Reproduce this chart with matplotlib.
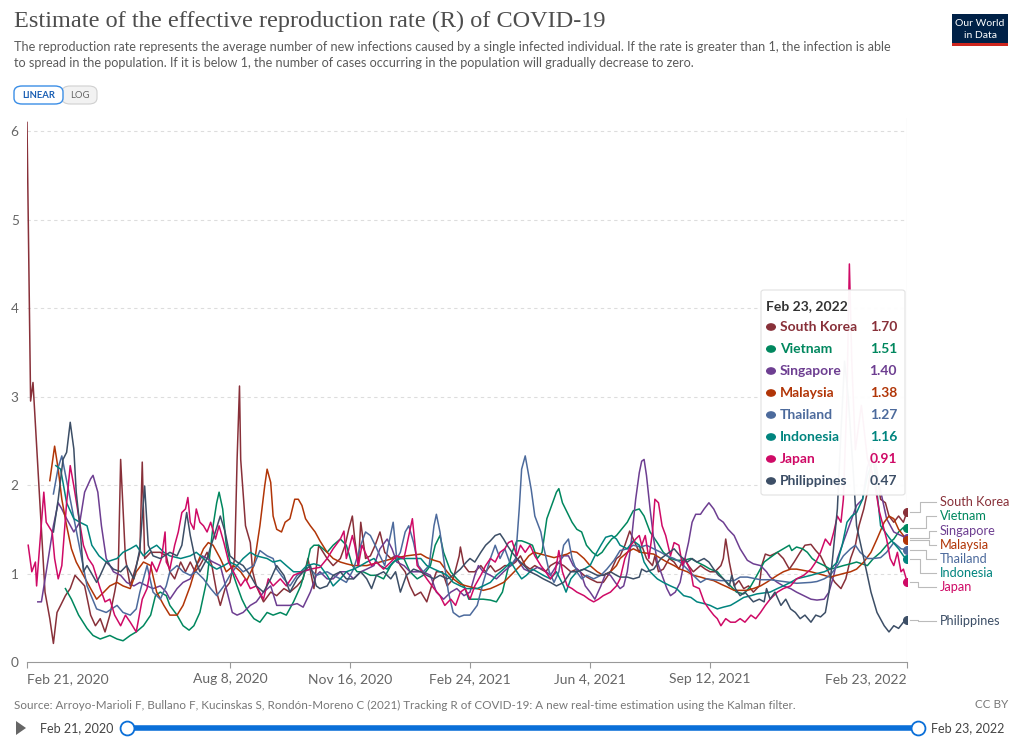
import matplotlib.pyplot as plt
from matplotlib.patches import FancyBboxPatch, Rectangle, Polygon, Circle
from matplotlib.lines import Line2D

plt.rcParams['font.family'] = ['Lato', 'DejaVu Sans']

# days since Feb 21, 2020 and estimated R
korea_days = [0, 3, 5, 11, 15, 19, 22, 25, 28, 32, 36, 40, 48, 53, 57, 61, 65, 69, 73, 76, 78, 82, 86, 91, 94, 96, 98, 103, 111, 116, 119, 123, 128, 132, 136, 140, 144, 150, 154, 158, 161, 165, 169, 173, 175, 177, 178, 182, 186, 188, 191, 197, 203, 208, 214, 219, 225, 230, 234, 239, 243, 250, 255, 261, 265, 268, 271, 273, 276, 278, 282, 286, 290, 294, 298, 303, 307, 311, 315, 319, 323, 328, 333, 337, 341, 346, 350, 355, 360, 361, 364, 368, 373, 378, 382, 386, 390, 394, 398, 403, 407, 411, 415, 419, 423, 428, 432, 436, 441, 447, 453, 458, 464, 469, 475, 480, 486, 491, 494, 498, 502, 505, 510, 512, 516, 521, 523, 526, 530, 535, 539, 543, 547, 551, 555, 561, 565, 569, 573, 578, 580, 582, 585, 589, 593, 597, 601, 605, 610, 612, 615, 619, 625, 630, 635, 639, 644, 648, 653, 657, 661, 665, 669, 673, 678, 682, 686, 690, 693, 697, 700, 704, 708, 711, 715, 718, 722, 726, 730, 733]
korea_r = [6.10, 2.95, 3.16, 1.73, 0.79, 0.49, 0.21, 0.56, 0.64, 0.75, 0.83, 0.98, 0.86, 0.53, 0.41, 0.49, 0.34, 0.53, 0.79, 1.02, 2.29, 1.17, 0.86, 1.09, 1.24, 2.26, 1.17, 1.24, 1.24, 1.20, 1.02, 0.94, 1.13, 1.02, 1.13, 1.02, 1.09, 1.24, 1.09, 0.79, 0.64, 0.83, 0.90, 1.17, 2.29, 3.12, 2.29, 1.54, 1.35, 1.02, 0.86, 0.68, 0.79, 0.75, 0.83, 0.79, 0.86, 0.94, 1.17, 0.83, 1.32, 1.17, 1.09, 1.17, 1.32, 1.50, 1.65, 1.39, 1.09, 1.58, 1.17, 1.20, 1.32, 1.47, 1.24, 1.17, 1.20, 1.09, 1.02, 0.86, 0.75, 0.79, 0.68, 0.86, 1.02, 1.02, 0.86, 0.94, 1.20, 1.30, 1.09, 1.02, 1.02, 1.09, 1.02, 1.09, 1.02, 1.05, 1.09, 1.09, 1.13, 1.20, 1.09, 1.05, 1.09, 1.05, 1.02, 1.09, 1.13, 1.09, 1.02, 1.05, 0.98, 0.94, 0.90, 0.90, 1.02, 1.17, 1.20, 1.32, 1.48, 1.39, 1.24, 1.32, 1.17, 1.09, 1.20, 1.02, 1.05, 1.17, 1.13, 1.05, 1.17, 1.09, 1.02, 1.09, 1.05, 1.02, 1.02, 1.09, 1.17, 1.39, 1.13, 0.86, 0.92, 0.83, 0.86, 0.79, 0.86, 1.09, 1.22, 1.20, 1.24, 1.17, 1.05, 1.13, 1.24, 1.32, 1.33, 1.26, 1.20, 1.09, 0.98, 0.90, 0.83, 0.94, 1.17, 1.32, 1.54, 1.73, 1.92, 2.30, 2.10, 1.84, 1.80, 1.65, 1.58, 1.65, 1.58, 1.70]

vietnam_days = [32, 37, 43, 50, 55, 61, 69, 75, 80, 86, 91, 97, 103, 107, 111, 116, 119, 125, 130, 135, 139, 144, 150, 155, 158, 160, 163, 166, 171, 175, 179, 183, 189, 194, 200, 205, 211, 216, 222, 228, 233, 236, 239, 243, 250, 255, 261, 266, 271, 275, 280, 286, 291, 297, 303, 308, 314, 319, 325, 330, 336, 340, 344, 347, 353, 358, 364, 368, 375, 380, 386, 391, 396, 400, 404, 408, 412, 416, 421, 425, 429, 433, 437, 441, 443, 446, 450, 454, 458, 462, 466, 471, 475, 479, 483, 487, 491, 500, 505, 510, 514, 519, 525, 530, 536, 541, 547, 553, 558, 564, 569, 575, 580, 586, 591, 597, 603, 608, 614, 619, 625, 630, 635, 637, 641, 646, 650, 654, 658, 664, 669, 675, 680, 686, 691, 700, 705, 711, 716, 722, 726, 730, 733]
vietnam_r = [0.83, 0.71, 0.53, 0.38, 0.30, 0.26, 0.30, 0.26, 0.24, 0.30, 0.34, 0.41, 0.53, 0.75, 0.79, 0.75, 0.64, 0.53, 0.41, 0.36, 0.41, 0.56, 0.94, 1.54, 1.80, 1.92, 1.73, 1.32, 1.02, 0.86, 0.71, 0.60, 0.49, 0.45, 0.56, 0.53, 0.56, 0.53, 0.68, 0.86, 1.09, 1.28, 1.32, 1.32, 1.24, 1.32, 1.39, 1.32, 1.09, 1.02, 1.02, 0.98, 0.98, 0.94, 1.09, 1.17, 1.17, 1.02, 0.94, 0.98, 1.09, 1.32, 1.43, 1.24, 1.02, 0.94, 0.86, 0.71, 0.71, 0.71, 0.70, 0.68, 0.79, 1.02, 1.24, 1.37, 1.37, 1.35, 1.32, 1.17, 1.24, 1.62, 1.77, 1.92, 1.96, 1.80, 1.69, 1.58, 1.50, 1.47, 1.32, 1.24, 1.20, 1.24, 1.32, 1.39, 1.43, 1.58, 1.71, 1.73, 1.65, 1.47, 1.35, 1.24, 1.17, 1.15, 1.15, 1.17, 1.13, 1.09, 1.05, 1.02, 0.94, 0.86, 0.79, 0.77, 0.86, 0.98, 1.13, 1.18, 1.24, 1.28, 1.32, 1.26, 1.30, 1.28, 1.24, 1.17, 1.13, 1.09, 1.05, 1.07, 1.09, 1.11, 1.13, 1.09, 1.17, 1.24, 1.32, 1.39, 1.47, 1.52, 1.51]

singapore_days = [9, 12, 16, 22, 26, 29, 33, 39, 44, 48, 53, 55, 59, 62, 66, 72, 78, 83, 89, 94, 100, 105, 111, 116, 119, 125, 130, 136, 141, 146, 150, 155, 161, 166, 171, 175, 180, 186, 191, 197, 203, 208, 214, 219, 225, 230, 236, 241, 244, 250, 255, 261, 266, 272, 278, 283, 289, 294, 300, 304, 308, 314, 319, 325, 330, 336, 341, 347, 353, 358, 364, 369, 373, 376, 380, 386, 391, 397, 403, 408, 414, 419, 425, 430, 436, 441, 447, 451, 455, 461, 465, 469, 473, 478, 482, 486, 490, 494, 497, 500, 503, 507, 510, 512, 514, 516, 519, 522, 525, 529, 533, 536, 540, 544, 548, 551, 554, 557, 561, 564, 568, 572, 576, 580, 584, 589, 594, 600, 605, 611, 616, 619, 625, 630, 636, 641, 647, 653, 658, 664, 668, 672, 675, 679, 683, 687, 691, 696, 700, 705, 710, 716, 722, 728, 733]
singapore_r = [0.68, 0.68, 1.02, 1.54, 1.80, 1.73, 1.62, 1.47, 1.58, 1.92, 2.07, 2.11, 1.92, 1.54, 1.17, 1.02, 0.98, 0.90, 0.86, 0.90, 0.86, 0.83, 0.86, 0.79, 0.71, 0.83, 0.90, 0.94, 1.09, 1.20, 1.17, 1.13, 1.09, 0.83, 0.56, 0.53, 0.56, 0.64, 0.68, 0.79, 0.86, 0.64, 0.64, 0.64, 0.66, 0.62, 0.79, 0.98, 1.02, 0.94, 0.94, 1.02, 1.02, 0.94, 1.02, 1.05, 1.09, 1.28, 1.39, 1.28, 1.13, 1.09, 1.02, 1.02, 1.02, 0.98, 0.79, 0.71, 0.79, 0.83, 0.75, 0.79, 0.98, 1.09, 1.02, 0.98, 0.94, 1.02, 1.09, 1.17, 1.05, 1.02, 1.07, 1.05, 0.98, 1.09, 1.20, 1.20, 1.09, 1.02, 0.86, 0.79, 0.71, 0.86, 1.00, 0.98, 0.90, 0.83, 0.86, 1.02, 1.32, 1.84, 2.14, 2.27, 2.29, 2.11, 1.73, 1.39, 1.13, 0.98, 0.83, 0.75, 0.79, 0.90, 1.17, 1.35, 1.58, 1.67, 1.67, 1.73, 1.80, 1.73, 1.62, 1.58, 1.50, 1.43, 1.28, 1.15, 1.11, 1.09, 1.02, 0.96, 0.90, 0.86, 0.83, 0.79, 0.75, 0.71, 0.70, 0.71, 0.79, 0.98, 1.17, 1.32, 1.47, 1.62, 1.77, 1.84, 2.20, 2.40, 2.00, 1.62, 1.47, 1.43, 1.40]

malaysia_days = [19, 23, 26, 29, 33, 37, 41, 47, 53, 58, 64, 69, 75, 80, 86, 91, 97, 103, 108, 114, 119, 125, 130, 136, 141, 147, 151, 155, 161, 166, 172, 178, 183, 189, 194, 198, 200, 203, 205, 208, 212, 215, 219, 223, 226, 229, 232, 236, 240, 244, 250, 255, 261, 266, 272, 283, 294, 305, 316, 328, 333, 339, 344, 350, 355, 361, 366, 375, 380, 386, 391, 397, 403, 408, 414, 418, 422, 428, 439, 450, 454, 458, 464, 469, 475, 480, 486, 491, 494, 500, 505, 511, 522, 528, 533, 539, 544, 550, 555, 561, 566, 572, 578, 583, 589, 600, 605, 611, 616, 625, 630, 636, 641, 653, 664, 669, 680, 686, 691, 697, 703, 708, 714, 718, 722, 726, 730, 733]
malaysia_r = [2.05, 2.44, 2.18, 1.84, 1.54, 1.28, 1.13, 0.98, 0.83, 0.71, 0.79, 0.86, 0.90, 0.86, 0.83, 1.02, 1.13, 1.09, 0.79, 0.64, 0.53, 0.53, 0.64, 0.86, 1.09, 1.28, 1.35, 1.32, 1.17, 1.02, 1.09, 1.02, 0.92, 1.09, 1.54, 1.99, 2.18, 2.03, 1.65, 1.50, 1.47, 1.58, 1.62, 1.84, 1.84, 1.77, 1.62, 1.54, 1.47, 1.37, 1.24, 1.17, 1.13, 1.11, 1.09, 1.09, 1.13, 1.17, 1.20, 1.22, 1.18, 1.15, 1.13, 1.02, 0.94, 0.88, 0.86, 0.83, 0.81, 0.83, 0.86, 0.90, 0.98, 1.05, 1.13, 1.20, 1.24, 1.22, 1.18, 1.22, 1.25, 1.24, 1.17, 1.09, 1.02, 0.98, 1.02, 1.09, 1.17, 1.24, 1.28, 1.24, 1.22, 1.17, 1.13, 1.09, 1.05, 1.02, 0.98, 0.96, 0.94, 0.92, 0.88, 0.85, 0.81, 0.81, 0.83, 0.86, 0.90, 0.98, 1.02, 1.05, 1.05, 1.02, 0.98, 0.96, 1.00, 1.02, 1.05, 1.13, 1.24, 1.39, 1.58, 1.65, 1.62, 1.50, 1.43, 1.38]

thailand_days = [22, 26, 29, 44, 50, 58, 66, 75, 80, 86, 91, 94, 100, 105, 111, 116, 119, 125, 130, 136, 141, 147, 153, 158, 164, 169, 175, 180, 189, 194, 200, 205, 208, 214, 219, 225, 230, 236, 241, 250, 255, 261, 266, 272, 278, 282, 286, 290, 294, 298, 301, 305, 308, 311, 315, 318, 322, 326, 330, 335, 339, 341, 344, 347, 351, 355, 360, 364, 369, 375, 380, 386, 390, 394, 398, 403, 407, 410, 412, 415, 417, 420, 423, 428, 430, 435, 439, 443, 447, 451, 454, 458, 462, 466, 472, 478, 483, 489, 494, 500, 505, 511, 516, 522, 528, 533, 539, 544, 550, 555, 561, 566, 578, 589, 594, 600, 611, 619, 630, 641, 653, 658, 664, 669, 675, 680, 686, 690, 694, 700, 705, 711, 716, 722, 728, 733]
thailand_r = [1.90, 2.20, 2.33, 1.28, 0.86, 0.60, 0.56, 0.64, 0.56, 0.53, 0.60, 0.79, 1.09, 0.79, 0.71, 0.86, 1.02, 1.09, 1.02, 0.98, 1.02, 0.94, 0.83, 0.75, 0.86, 0.98, 1.09, 1.02, 1.09, 1.26, 1.20, 1.17, 1.05, 0.94, 0.86, 0.98, 1.02, 1.05, 0.98, 1.02, 0.98, 0.94, 0.90, 1.05, 1.32, 1.47, 1.43, 1.32, 1.20, 1.09, 1.32, 1.58, 1.17, 1.24, 1.47, 1.54, 1.35, 1.09, 1.02, 1.09, 1.54, 1.67, 1.47, 1.17, 0.79, 0.56, 0.51, 0.53, 0.53, 0.64, 0.90, 1.17, 1.32, 1.17, 1.28, 1.09, 1.17, 1.73, 2.18, 2.33, 2.18, 1.95, 1.65, 1.47, 1.32, 1.02, 0.90, 1.02, 1.32, 1.39, 1.17, 1.02, 0.94, 0.98, 0.94, 0.98, 1.05, 1.15, 1.26, 1.28, 1.32, 1.30, 1.32, 1.28, 1.24, 1.20, 1.17, 1.13, 1.05, 0.98, 0.90, 0.94, 0.92, 0.92, 0.96, 0.96, 0.93, 0.93, 0.91, 0.89, 0.90, 0.91, 0.94, 0.98, 1.09, 1.20, 1.28, 1.32, 1.24, 1.17, 1.17, 1.18, 1.24, 1.35, 1.28, 1.27]

indonesia_days = [24, 28, 33, 39, 44, 50, 54, 60, 66, 75, 80, 86, 91, 97, 103, 108, 114, 119, 128, 136, 141, 147, 153, 158, 164, 169, 175, 180, 186, 191, 200, 205, 211, 216, 222, 228, 233, 239, 244, 250, 255, 261, 266, 272, 278, 283, 289, 294, 300, 305, 311, 328, 333, 339, 344, 350, 355, 361, 366, 375, 380, 386, 391, 397, 403, 408, 412, 416, 421, 425, 430, 436, 441, 447, 449, 453, 458, 464, 469, 473, 478, 482, 487, 491, 494, 500, 505, 510, 514, 519, 525, 530, 536, 541, 547, 553, 558, 564, 569, 575, 580, 586, 591, 597, 603, 608, 619, 625, 630, 636, 641, 647, 653, 658, 664, 669, 675, 679, 683, 687, 691, 696, 700, 705, 711, 719, 726, 730, 733]
indonesia_r = [2.22, 2.18, 1.80, 1.62, 1.58, 1.54, 1.32, 1.20, 1.13, 1.17, 1.24, 1.28, 1.32, 1.20, 1.28, 1.32, 1.24, 1.20, 1.17, 1.20, 1.24, 1.17, 1.09, 1.05, 1.09, 1.13, 1.09, 1.17, 1.24, 1.20, 1.17, 1.13, 1.15, 1.09, 1.02, 1.02, 1.09, 1.11, 1.09, 0.98, 0.86, 0.94, 1.02, 1.05, 1.09, 1.13, 1.17, 1.09, 1.05, 1.13, 1.17, 1.17, 1.09, 1.05, 1.02, 0.98, 0.90, 0.86, 0.83, 0.83, 0.86, 0.90, 0.98, 1.05, 1.13, 1.02, 0.94, 0.98, 1.05, 1.02, 0.98, 0.94, 1.02, 0.86, 0.79, 0.94, 1.02, 1.05, 1.09, 1.20, 1.32, 1.41, 1.43, 1.39, 1.32, 1.28, 1.37, 1.32, 1.13, 1.02, 0.94, 0.90, 0.86, 0.83, 0.75, 0.73, 0.68, 0.66, 0.64, 0.60, 0.62, 0.64, 0.68, 0.73, 0.75, 0.77, 0.79, 0.83, 0.86, 0.90, 0.94, 0.96, 0.98, 1.00, 1.02, 1.05, 1.13, 1.32, 1.58, 1.65, 1.69, 1.84, 2.10, 2.30, 1.54, 1.39, 1.28, 1.20, 1.16]

japan_days = [1, 4, 7, 8, 11, 14, 16, 21, 23, 26, 29, 33, 36, 39, 43, 47, 51, 55, 61, 65, 69, 73, 78, 82, 86, 91, 96, 100, 104, 108, 112, 115, 116, 119, 123, 126, 129, 132, 134, 136, 139, 141, 144, 147, 150, 153, 157, 160, 164, 168, 172, 178, 182, 186, 191, 197, 201, 205, 211, 216, 222, 229, 236, 244, 250, 255, 261, 264, 266, 271, 273, 276, 279, 283, 287, 291, 297, 303, 308, 314, 318, 321, 325, 329, 333, 339, 344, 348, 353, 357, 361, 365, 369, 373, 378, 382, 386, 390, 394, 398, 401, 404, 408, 411, 415, 419, 423, 428, 432, 436, 440, 443, 446, 450, 454, 458, 464, 468, 472, 476, 480, 486, 491, 494, 498, 503, 507, 510, 512, 515, 518, 521, 523, 526, 529, 532, 536, 539, 543, 546, 548, 553, 555, 560, 564, 568, 572, 575, 578, 582, 586, 590, 594, 598, 603, 607, 611, 615, 619, 625, 630, 636, 641, 647, 653, 657, 661, 665, 669, 672, 675, 678, 680, 683, 685, 687, 690, 695, 700, 705, 710, 716, 719, 722, 725, 728, 730, 733]
japan_r = [1.32, 1.02, 1.13, 0.86, 1.39, 1.92, 1.58, 1.47, 1.17, 0.94, 1.09, 1.80, 2.22, 1.99, 1.65, 1.32, 1.17, 1.09, 0.83, 0.68, 0.71, 0.53, 0.41, 0.53, 0.45, 0.34, 0.71, 0.83, 1.13, 1.02, 1.17, 1.47, 1.13, 1.05, 1.32, 1.47, 1.69, 1.73, 1.86, 1.58, 1.50, 1.73, 1.58, 1.54, 1.47, 1.58, 1.39, 1.54, 1.35, 1.13, 1.02, 0.86, 0.94, 0.83, 0.86, 0.71, 0.94, 0.86, 0.94, 0.86, 0.98, 1.02, 1.05, 1.07, 1.17, 1.28, 1.39, 1.48, 1.17, 1.43, 1.32, 1.09, 1.32, 1.20, 1.09, 1.13, 1.05, 1.13, 1.20, 1.17, 1.43, 1.62, 1.09, 1.02, 0.94, 0.83, 0.75, 0.64, 0.71, 0.64, 0.79, 0.83, 0.71, 0.86, 0.98, 1.09, 1.17, 1.13, 1.24, 1.28, 1.35, 1.37, 1.20, 1.32, 1.24, 1.32, 1.20, 1.09, 1.02, 0.94, 1.02, 1.26, 1.02, 0.86, 0.83, 0.79, 0.75, 0.71, 0.68, 0.71, 0.75, 0.79, 0.86, 0.94, 1.17, 1.32, 1.39, 1.43, 1.32, 1.43, 1.17, 1.47, 1.84, 1.80, 1.54, 1.43, 1.20, 1.35, 1.32, 1.09, 1.17, 1.02, 0.86, 0.83, 0.68, 0.60, 0.53, 0.49, 0.41, 0.49, 0.45, 0.45, 0.49, 0.45, 0.53, 0.49, 0.56, 0.64, 0.71, 0.79, 0.83, 0.86, 0.94, 0.98, 1.05, 1.13, 1.24, 1.39, 1.32, 1.47, 1.65, 1.58, 1.84, 3.00, 4.50, 3.40, 2.40, 2.90, 2.30, 2.10, 1.70, 1.39, 1.17, 1.09, 1.24, 1.02, 1.05, 0.91]

philippines_days = [22, 26, 30, 33, 36, 39, 41, 44, 47, 50, 53, 58, 61, 66, 72, 78, 83, 89, 94, 98, 101, 105, 111, 119, 125, 129, 133, 136, 140, 144, 150, 155, 161, 165, 169, 175, 180, 186, 191, 197, 203, 208, 214, 219, 225, 230, 236, 241, 244, 250, 255, 261, 266, 272, 278, 283, 287, 291, 297, 303, 307, 311, 316, 322, 328, 333, 339, 344, 350, 355, 361, 366, 369, 373, 378, 382, 386, 390, 394, 397, 400, 404, 408, 414, 419, 425, 430, 436, 441, 447, 453, 458, 464, 469, 475, 480, 486, 491, 494, 500, 505, 510, 512, 516, 522, 528, 533, 539, 544, 550, 554, 558, 564, 568, 572, 576, 580, 585, 587, 590, 594, 598, 603, 605, 610, 614, 616, 619, 623, 628, 632, 636, 640, 644, 648, 653, 657, 661, 665, 668, 671, 675, 678, 681, 684, 688, 691, 697, 703, 708, 714, 718, 722, 726, 730, 733]
philippines_r = [1.47, 1.84, 2.29, 2.37, 2.71, 2.41, 1.92, 1.54, 1.02, 1.09, 1.02, 0.90, 0.98, 1.13, 1.05, 1.02, 1.09, 0.94, 1.28, 1.99, 1.32, 1.20, 1.17, 1.24, 1.20, 1.32, 1.69, 1.43, 1.17, 1.02, 1.17, 1.39, 1.65, 1.47, 1.20, 1.13, 1.09, 0.98, 0.86, 0.79, 0.94, 1.09, 0.98, 0.79, 0.94, 1.02, 1.09, 0.86, 0.83, 0.86, 0.98, 1.02, 0.94, 0.94, 1.02, 0.94, 0.83, 0.98, 1.02, 0.94, 1.02, 0.79, 0.98, 1.05, 1.02, 0.98, 0.94, 0.98, 0.94, 0.98, 1.05, 1.13, 1.17, 1.13, 1.24, 1.32, 1.37, 1.43, 1.45, 1.39, 1.32, 1.24, 1.17, 1.09, 1.02, 0.98, 0.94, 0.90, 0.86, 0.90, 1.02, 1.02, 1.05, 1.02, 0.98, 0.98, 1.02, 0.98, 0.96, 0.96, 0.94, 0.96, 1.05, 1.02, 1.05, 1.17, 1.22, 1.28, 1.20, 1.13, 1.17, 1.13, 1.17, 1.13, 1.05, 0.98, 0.94, 0.86, 0.98, 0.83, 0.75, 0.79, 0.71, 0.68, 0.71, 0.68, 0.83, 0.71, 0.79, 0.64, 0.71, 0.60, 0.56, 0.49, 0.53, 0.45, 0.53, 0.51, 0.56, 0.79, 1.17, 1.73, 2.60, 3.40, 3.00, 2.20, 1.54, 1.17, 0.79, 0.56, 0.41, 0.34, 0.41, 0.38, 0.45, 0.47]

countries = ['South Korea', 'Vietnam', 'Singapore', 'Malaysia', 'Thailand', 'Indonesia', 'Japan', 'Philippines']
series_days = [korea_days, vietnam_days, singapore_days, malaysia_days, thailand_days, indonesia_days, japan_days, philippines_days]
series_r = [korea_r, vietnam_r, singapore_r, malaysia_r, thailand_r, indonesia_r, japan_r, philippines_r]
colors = ['#883039', '#00875E', '#6D3E91', '#B13507', '#4C6A9C', '#00847E', '#CF0A66', '#3C4E66']

tick_days = [0, 169, 269, 369, 469, 569, 733]
tick_labels = ['Feb 21, 2020', 'Aug 8, 2020', 'Nov 16, 2020', 'Feb 24, 2021', 'Jun 4, 2021', 'Sep 12, 2021', 'Feb 23, 2022']

W, H = 1023, 743
fig = plt.figure(figsize=(W / 100, H / 100), dpi=100)


def fx(px):
    return px / W


def fy(py):
    return 1 - py / H


ax = fig.add_axes([fx(27), fy(662), fx(907) - fx(27), fy(118) - fy(662)])
ax.set_xlim(0, 733)
ax.set_ylim(0, 6.15)

for v in range(1, 7):
    ax.axhline(v, color='#dddddd', lw=0.8, dashes=(3, 3), zorder=0)
ax.axvline(733, color='#cccccc', lw=0.8, zorder=0)

for d, r, c in zip(series_days, series_r, colors):
    ax.plot(d, r, color=c, lw=1.1, solid_joinstyle='round', zorder=2)
    ax.plot(d[-1], r[-1], 'o', color=c, ms=5.5, zorder=4)

for s in ['top', 'right', 'left']:
    ax.spines[s].set_visible(False)
ax.spines['bottom'].set_color('#999999')
ax.spines['bottom'].set_linewidth(0.8)
ax.set_yticks(range(0, 7))
ax.tick_params(axis='y', length=0, pad=6, labelsize=9.8, labelcolor='#666666')
ax.set_xticks(tick_days)
ax.set_xticklabels(tick_labels)
ax.tick_params(axis='x', length=4, color='#999999', pad=4, labelsize=10, labelcolor='#666666')
xl = ax.get_xticklabels()
xl[0].set_ha('left')
xl[-1].set_ha('right')

# end labels with connectors
label_y = [502, 516, 531, 545, 559, 573, 587, 621]
bend_x = [920, 926, 929, 929, 926, 920, 918, 918]
for name, r, c, ly, bx in zip(countries, series_r, colors, label_y, bend_x):
    xd, yd = ax.transData.transform((733, r[-1]))
    dot_py = H - yd
    fig.add_artist(Line2D([fx(910), fx(bx), fx(bx), fx(936)], [fy(dot_py), fy(dot_py), fy(ly), fy(ly)],
                          color='#bbbbbb', lw=0.8))
    fig.text(fx(940), fy(ly), name, color=c, fontsize=9.2, va='center', ha='left')

# tooltip
tip = FancyBboxPatch((fx(761), fy(495)), fx(905) - fx(761), fy(290) - fy(495),
                     boxstyle='round,pad=0,rounding_size=0.003', transform=fig.transFigure,
                     facecolor='white', edgecolor='#e0e0e0', lw=0.8, alpha=0.96, zorder=5)
fig.add_artist(tip)
fig.text(fx(766), fy(306), 'Feb 23, 2022', fontsize=10, fontweight='bold', color='#333333', va='center', zorder=6)
for i, (name, r, c) in enumerate(zip(countries, series_r, colors)):
    ty = 327 + i * 22
    fig.add_artist(Circle((fx(771), fy(ty)), 0.0042, transform=fig.transFigure, color=c, zorder=6))
    fig.text(fx(780), fy(ty), name, fontsize=10, fontweight='bold', color=c, va='center', zorder=6)
    fig.text(fx(897), fy(ty), f'{r[-1]:.2f}', fontsize=10, fontweight='bold', color=c, va='center', ha='right', zorder=6)

# header
fig.text(fx(14), fy(21), 'Estimate of the effective reproduction rate (R) of COVID-19',
         family='Liberation Serif', fontsize=17.5, color='#4d4d4d', va='center')
fig.text(fx(14), fy(47), 'The reproduction rate represents the average number of new infections caused by a single infected individual. If the rate is greater than 1, the infection is able',
         fontsize=9.1, color='#5b5b5b', va='center')
fig.text(fx(14), fy(63), 'to spread in the population. If it is below 1, the number of cases occurring in the population will gradually decrease to zero.',
         fontsize=9.1, color='#5b5b5b', va='center')

fig.add_artist(FancyBboxPatch((fx(62), fy(104)), fx(97) - fx(62), fy(86) - fy(104),
                              boxstyle='round,pad=0,rounding_size=0.008', transform=fig.transFigure,
                              facecolor='#f2f2f2', edgecolor='#d0d0d0', lw=0.8))
fig.add_artist(FancyBboxPatch((fx(14), fy(104)), fx(63) - fx(14), fy(86) - fy(104),
                              boxstyle='round,pad=0,rounding_size=0.008', transform=fig.transFigure,
                              facecolor='white', edgecolor='#3b8ee6', lw=1.0))
fig.text(fx(38.5), fy(95), 'LINEAR', fontsize=6.8, color='#1a5fb4', ha='center', va='center', fontweight='bold')
fig.text(fx(80), fy(95), 'LOG', fontsize=6.8, color='#666666', ha='center', va='center')

fig.add_artist(Rectangle((fx(952), fy(46)), fx(1008) - fx(952), fy(14) - fy(46),
                         transform=fig.transFigure, facecolor='#002147', edgecolor='none'))
fig.add_artist(Rectangle((fx(952), fy(46)), fx(1008) - fx(952), fy(43) - fy(46),
                         transform=fig.transFigure, facecolor='#ce261e', edgecolor='none'))
fig.text(fx(980), fy(23), 'Our World', fontsize=7.5, color='white', ha='center', va='center')
fig.text(fx(980), fy(35), 'in Data', fontsize=7.5, color='white', ha='center', va='center')

# footer
fig.text(fx(14), fy(705), 'Source: Arroyo-Marioli F, Bullano F, Kucinskas S, Rondón-Moreno C (2021) Tracking R of COVID-19: A new real-time estimation using the Kalman filter.',
         fontsize=8.35, color='#777777', va='center')
fig.text(fx(1008), fy(705), 'CC BY', fontsize=8.35, color='#777777', va='center', ha='right')

fig.add_artist(Polygon([[fx(16), fy(721)], [fx(16), fy(735)], [fx(26), fy(728)]], closed=True,
                       transform=fig.transFigure, facecolor='#666666', edgecolor='none'))
fig.text(fx(40), fy(728), 'Feb 21, 2020', fontsize=9, color='#444444', va='center')
fig.text(fx(931), fy(728), 'Feb 23, 2022', fontsize=9, color='#444444', va='center')
fig.add_artist(Line2D([fx(127), fx(918)], [fy(728), fy(728)], color='#0a6fd8', lw=4, solid_capstyle='butt'))
for px in [127, 918]:
    fig.add_artist(Line2D([fx(px)], [fy(728)], marker='o', ms=10, mfc='white', mec='#0a6fd8', mew=1.3))

fig.savefig('out.png', dpi=100)
